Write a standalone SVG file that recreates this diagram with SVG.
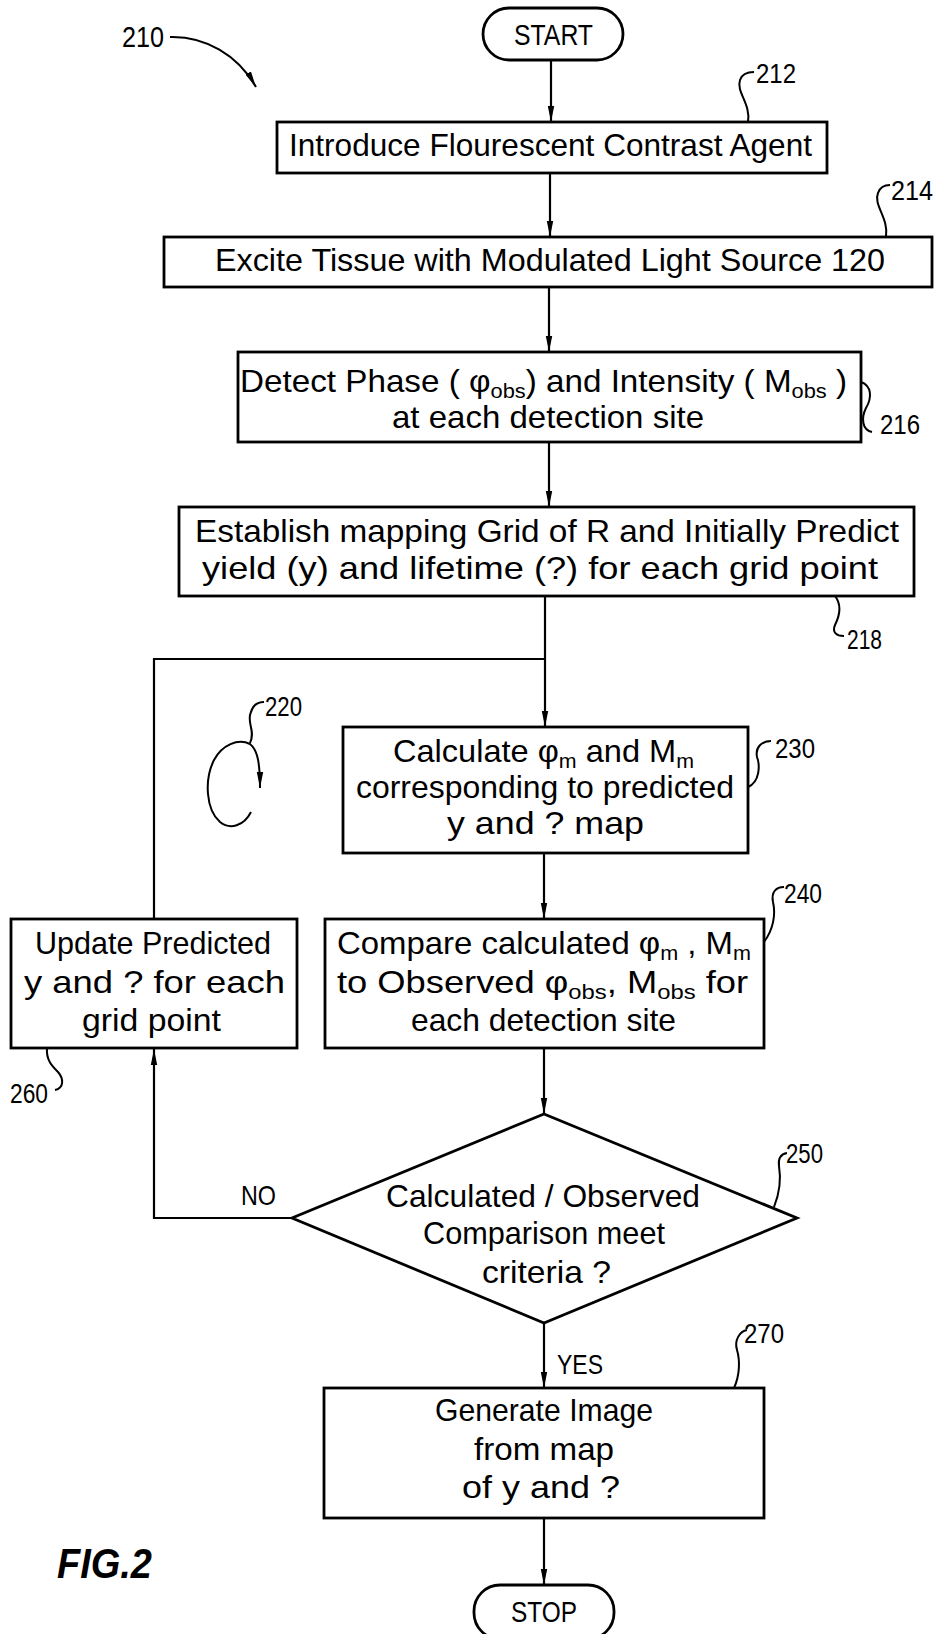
<svg xmlns="http://www.w3.org/2000/svg" width="935" height="1634" viewBox="0 0 935 1634">
<style>
text{font-family:"Liberation Sans",Arial,sans-serif;fill:#000}
.t{font-size:32px}
.s{font-size:21px}
.lb{font-size:28px}
.box{fill:#fff;stroke:#000;stroke-width:2.8}
.ln{fill:none;stroke:#000;stroke-width:2.2}
.ld{fill:none;stroke:#000;stroke-width:2}
</style>
<defs>
<marker id="ah" markerUnits="userSpaceOnUse" markerWidth="17" markerHeight="8" refX="16" refY="4" orient="auto">
<path d="M0,0.8 L16,4 L0,7.2 z" fill="#000"/>
</marker>
</defs>
<rect width="935" height="1634" fill="#fff"/>

<g id="connectors">
<line class="ln" x1="551" y1="60" x2="551" y2="122" marker-end="url(#ah)"/>
<line class="ln" x1="550" y1="173" x2="550" y2="237" marker-end="url(#ah)"/>
<line class="ln" x1="549" y1="287" x2="549" y2="352" marker-end="url(#ah)"/>
<line class="ln" x1="549" y1="442" x2="549" y2="507" marker-end="url(#ah)"/>
<line class="ln" x1="545" y1="596" x2="545" y2="727" marker-end="url(#ah)"/>
<polyline class="ln" points="154,919 154,659 545,659"/>
<line class="ln" x1="544" y1="853" x2="544" y2="919" marker-end="url(#ah)"/>
<line class="ln" x1="544" y1="1048" x2="544" y2="1114" marker-end="url(#ah)"/>
<line class="ln" x1="544" y1="1323" x2="544" y2="1388" marker-end="url(#ah)"/>
<line class="ln" x1="544" y1="1518" x2="544" y2="1585" marker-end="url(#ah)"/>
<polyline class="ln" points="292,1218 154,1218 154,1049" marker-end="url(#ah)"/>
<text class="lb" x="241" y="1205" textLength="35" lengthAdjust="spacingAndGlyphs">NO</text>
<text class="lb" x="557" y="1374" textLength="46" lengthAdjust="spacingAndGlyphs">YES</text>
</g>

<g id="label210">
<text x="122" y="47" font-size="30" textLength="42" lengthAdjust="spacingAndGlyphs">210</text>
<path class="ld" d="M170,37 C205,36 238,55 256,87" marker-end="url(#ah)"/>
</g>

<g id="start">
<rect class="box" x="483" y="8" width="140" height="52" rx="26"/>
<text x="514" y="45" font-size="30" textLength="79" lengthAdjust="spacingAndGlyphs">START</text>
</g>

<g id="n212">
<rect class="box" x="277" y="122" width="550" height="51"/>
<text class="t" x="289" y="156" textLength="523" lengthAdjust="spacingAndGlyphs">Introduce Flourescent Contrast Agent</text>
<path class="ld" d="M748,122 C751,104 736,92 740,80 C742,74 748,72 754,72"/>
<text class="lb" x="756" y="83" textLength="40" lengthAdjust="spacingAndGlyphs">212</text>
</g>

<g id="n214">
<rect class="box" x="164" y="237" width="768" height="50"/>
<text class="t" x="215" y="271" textLength="670" lengthAdjust="spacingAndGlyphs">Excite Tissue with Modulated Light Source 120</text>
<path class="ld" d="M886,237 C889,218 873,205 878,193 C880,187 885,185 890,185"/>
<text class="lb" x="891" y="200" textLength="42" lengthAdjust="spacingAndGlyphs">214</text>
</g>

<g id="n216">
<rect class="box" x="238" y="352" width="623" height="90"/>
<text class="t" x="240" y="392" textLength="607" lengthAdjust="spacingAndGlyphs">Detect Phase ( φ<tspan class="s" dy="6">obs</tspan><tspan dy="-6">) and Intensity ( M</tspan><tspan class="s" dy="6">obs</tspan><tspan dy="-6"> )</tspan></text>
<text class="t" x="392" y="428" textLength="312" lengthAdjust="spacingAndGlyphs">at each detection site</text>
<path class="ld" d="M861,382 C872,386 872,398 866,408 C861,418 862,430 872,432"/>
<text class="lb" x="880" y="434" textLength="40" lengthAdjust="spacingAndGlyphs">216</text>
</g>

<g id="n218">
<rect class="box" x="179" y="507" width="735" height="89"/>
<text class="t" x="195" y="542" textLength="704" lengthAdjust="spacingAndGlyphs">Establish mapping Grid of R and Initially Predict</text>
<text class="t" x="202" y="579" textLength="676" lengthAdjust="spacingAndGlyphs">yield (y) and lifetime (?) for each grid point</text>
<path class="ld" d="M835,596 C842,605 840,615 835,625 C832,632 836,636 844,636"/>
<text class="lb" x="847" y="649" textLength="35" lengthAdjust="spacingAndGlyphs">218</text>
</g>

<g id="n220">
<path class="ld" d="M251,812 C244,826 230,830 220,822 C206,810 204,780 214,760 C222,745 238,738 250,744 C258,750 260,765 260,788" marker-end="url(#ah)"/>
<path class="ld" d="M250,743 C256,731 246,722 251,712 C253,705 257,702 264,702"/>
<text class="lb" x="265" y="716" textLength="37" lengthAdjust="spacingAndGlyphs">220</text>
</g>

<g id="n230">
<rect class="box" x="343" y="727" width="405" height="126"/>
<text class="t" x="393" y="762" textLength="301" lengthAdjust="spacingAndGlyphs">Calculate φ<tspan class="s" dy="6">m</tspan><tspan dy="-6"> and M</tspan><tspan class="s" dy="6">m</tspan></text>
<text class="t" x="356" y="798" textLength="378" lengthAdjust="spacingAndGlyphs">corresponding to predicted</text>
<text class="t" x="447" y="834" textLength="197" lengthAdjust="spacingAndGlyphs">y and ? map</text>
<path class="ld" d="M748,787 C760,782 760,765 757,757 C755,747 762,741 771,741"/>
<text class="lb" x="775" y="758" textLength="40" lengthAdjust="spacingAndGlyphs">230</text>
</g>

<g id="n240">
<rect class="box" x="325" y="919" width="439" height="129"/>
<text class="t" x="337" y="954" textLength="414" lengthAdjust="spacingAndGlyphs">Compare calculated φ<tspan class="s" dy="6">m</tspan><tspan dy="-6"> , M</tspan><tspan class="s" dy="6">m</tspan></text>
<text class="t" x="337" y="993" textLength="411" lengthAdjust="spacingAndGlyphs">to Observed φ<tspan class="s" dy="6">obs</tspan><tspan dy="-6">, M</tspan><tspan class="s" dy="6">obs</tspan><tspan dy="-6">  for</tspan></text>
<text class="t" x="411" y="1031" textLength="265" lengthAdjust="spacingAndGlyphs">each detection site</text>
<path class="ld" d="M764,942 C773,930 776,915 773,902 C771,892 776,887 784,887"/>
<text class="lb" x="784" y="903" textLength="38" lengthAdjust="spacingAndGlyphs">240</text>
</g>

<g id="n260">
<rect class="box" x="11" y="919" width="286" height="129"/>
<text class="t" x="35" y="954" textLength="236" lengthAdjust="spacingAndGlyphs">Update Predicted</text>
<text class="t" x="24" y="993" textLength="261" lengthAdjust="spacingAndGlyphs">y and ? for each</text>
<text class="t" x="82" y="1031" textLength="139" lengthAdjust="spacingAndGlyphs">grid point</text>
<path class="ld" d="M47,1048 C46,1060 52,1066 58,1072 C64,1079 64,1088 55,1090"/>
<text class="lb" x="10" y="1103" textLength="38" lengthAdjust="spacingAndGlyphs">260</text>
</g>

<g id="n250">
<polygon class="box" points="544,1114 797,1218 544,1323 292,1218"/>
<text class="t" x="386" y="1207" textLength="314" lengthAdjust="spacingAndGlyphs">Calculated / Observed</text>
<text class="t" x="423" y="1244" textLength="242" lengthAdjust="spacingAndGlyphs">Comparison meet</text>
<text class="t" x="482" y="1283" textLength="129" lengthAdjust="spacingAndGlyphs">criteria ?</text>
<path class="ld" d="M774,1207 C780,1192 781,1178 779,1166 C778,1158 781,1154 787,1153"/>
<text class="lb" x="786" y="1163" textLength="37" lengthAdjust="spacingAndGlyphs">250</text>
</g>

<g id="n270">
<rect class="box" x="324" y="1388" width="440" height="130"/>
<text class="t" x="435" y="1421" textLength="218" lengthAdjust="spacingAndGlyphs">Generate Image</text>
<text class="t" x="474" y="1460" textLength="140" lengthAdjust="spacingAndGlyphs">from map</text>
<text class="t" x="462" y="1498" textLength="158" lengthAdjust="spacingAndGlyphs">of y and ?</text>
<path class="ld" d="M734,1388 C740,1375 740,1360 737,1350 C734,1340 740,1331 747,1330"/>
<text class="lb" x="744" y="1343" textLength="40" lengthAdjust="spacingAndGlyphs">270</text>
</g>

<g id="stop">
<rect class="box" x="474" y="1585" width="140" height="54" rx="26"/>
<text x="511" y="1622" font-size="30" textLength="66" lengthAdjust="spacingAndGlyphs">STOP</text>
</g>

<g id="figlabel">
<text x="57" y="1578" font-size="42" font-style="italic" font-weight="bold" textLength="95" lengthAdjust="spacingAndGlyphs">FIG.2</text>
</g>
</svg>
